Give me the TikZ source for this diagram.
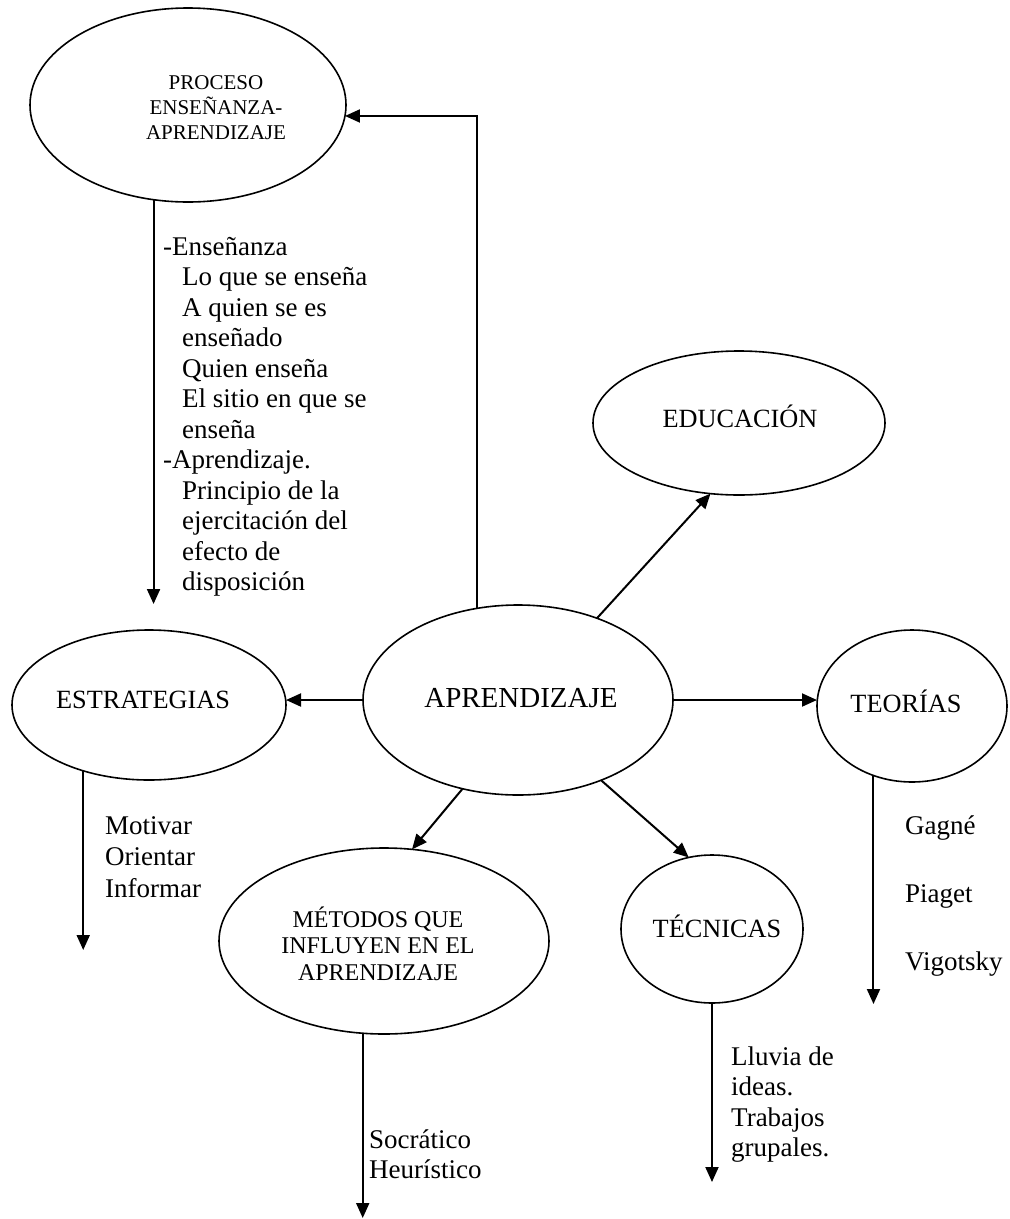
\documentclass[tikz,border=0pt]{standalone}
\usepackage{fontspec}
\setmainfont{Liberation Serif}
\usetikzlibrary{arrows.meta,shapes.geometric}
\newcommand{\fl}[1]{\rule{0pt}{#1}}
\newcommand{\ind}{\hspace*{19pt}}
\begin{document}
\begin{tikzpicture}[x=1pt,y=-1pt,
  ell/.style={draw, ellipse, line width=1.6pt, inner sep=0pt, outer sep=0pt},
  arr/.style={line width=2pt, -{Triangle[length=15pt,width=13pt]}},
  body/.style={inner sep=0pt, anchor=north west, align=left, font=\fontsize{27}{30.5}\selectfont},
  lab/.style={inner sep=0pt, anchor=base, font=\fontsize{26.3}{30}\selectfont}]
\useasboundingbox[fill=white] (0,0) rectangle (1010,1219);

% ellipses
\node[ell, minimum width=316pt, minimum height=194pt] (proc) at (188,105) {};
\node[ell, minimum width=310pt, minimum height=190pt] (apr) at (518,700) {};
\node[ell, minimum width=274pt, minimum height=150pt] (estr) at (149,705) {};
\node[ell, minimum width=292pt, minimum height=144pt] (edu) at (739,423) {};
\node[ell, minimum width=190pt, minimum height=152pt] (teo) at (912,706) {};
\node[ell, minimum width=330pt, minimum height=186pt] (met) at (384,941) {};
\node[ell, minimum width=182pt, minimum height=148pt] (tec) at (712,929) {};

% ellipse labels
\node[inner sep=0pt, anchor=north, align=center, font=\fontsize{21}{25}\selectfont] (proct) at (216,72) {\fl{17pt}PROCESO\\ENSEÑANZA-\\APRENDIZAJE};
\node[lab, font=\fontsize{29}{32}\selectfont] (aprt) at (521,707) {APRENDIZAJE};
\node[lab] (estrt) at (143,708) {ESTRATEGIAS};
\node[lab] (edut) at (740,427) {EDUCACIÓN};
\node[lab] (teot) at (906,712) {TEORÍAS};
\node[lab] (tect) at (717,937) {TÉCNICAS};
\node[inner sep=0pt, anchor=north, align=center, font=\fontsize{24}{26.5}\selectfont] (mett) at (378,904) {\fl{23pt}MÉTODOS QUE\\INFLUYEN EN EL\\APRENDIZAJE};

% text blocks
\node[body] (ta) at (163,233) {\fl{22pt}-Enseñanza\\\ind Lo que se enseña\\\ind A quien se es\\\ind enseñado\\\ind Quien enseña\\\ind El sitio en que se\\\ind enseña\\-Aprendizaje.\\\ind Principio de la\\\ind ejercitación del\\\ind efecto de\\\ind disposición};
\node[body, font=\fontsize{27}{31.5}\selectfont] (tb) at (105,812) {\fl{22pt}Motivar\\Orientar\\Informar};
\node[body, font=\fontsize{27}{68}\selectfont] (tc) at (905,812) {\fl{22pt}Gagné\\Piaget\\Vigotsky};
\node[body, font=\fontsize{27}{30}\selectfont] (td) at (369,1126) {\fl{22pt}Socrático\\Heurístico};
\node[body, font=\fontsize{27}{30.5}\selectfont] (te) at (731,1043) {\fl{22pt}Lluvia de\\ideas.\\Trabajos\\grupales.};

% free ends
\coordinate (pend) at (154,604);
\coordinate (send) at (84,950);
\coordinate (oend) at (874,1004);
\coordinate (mend) at (364,1218);
\coordinate (tend) at (711,1182);

% connectors
\draw[arr] (apr.114.9) |- (proc.-4.4);
\draw[arr] (proc.250.25) -- (proc.250.25 |- pend);
\draw[arr] (apr.west) -- (apr.west -| estr.east);
\draw[arr] (apr.east) -- (apr.east -| teo.west);
\draw[arr] (apr.46.8) -- (edu.248.3);
\draw[arr] (apr.238.5) -- (met.73.2);
\draw[arr] (apr.-44.6) -- (tec.108.2);
\draw[arr] (estr.225.4) -- (estr.225.4 |- send);
\draw[arr] (teo.241.4) -- (teo.241.4 |- oend);
\draw[arr] (met.257.8) -- (met.257.8 |- mend);
\draw[arr] (tec.south) -- (tec.south |- tend);
\end{tikzpicture}
\end{document}
